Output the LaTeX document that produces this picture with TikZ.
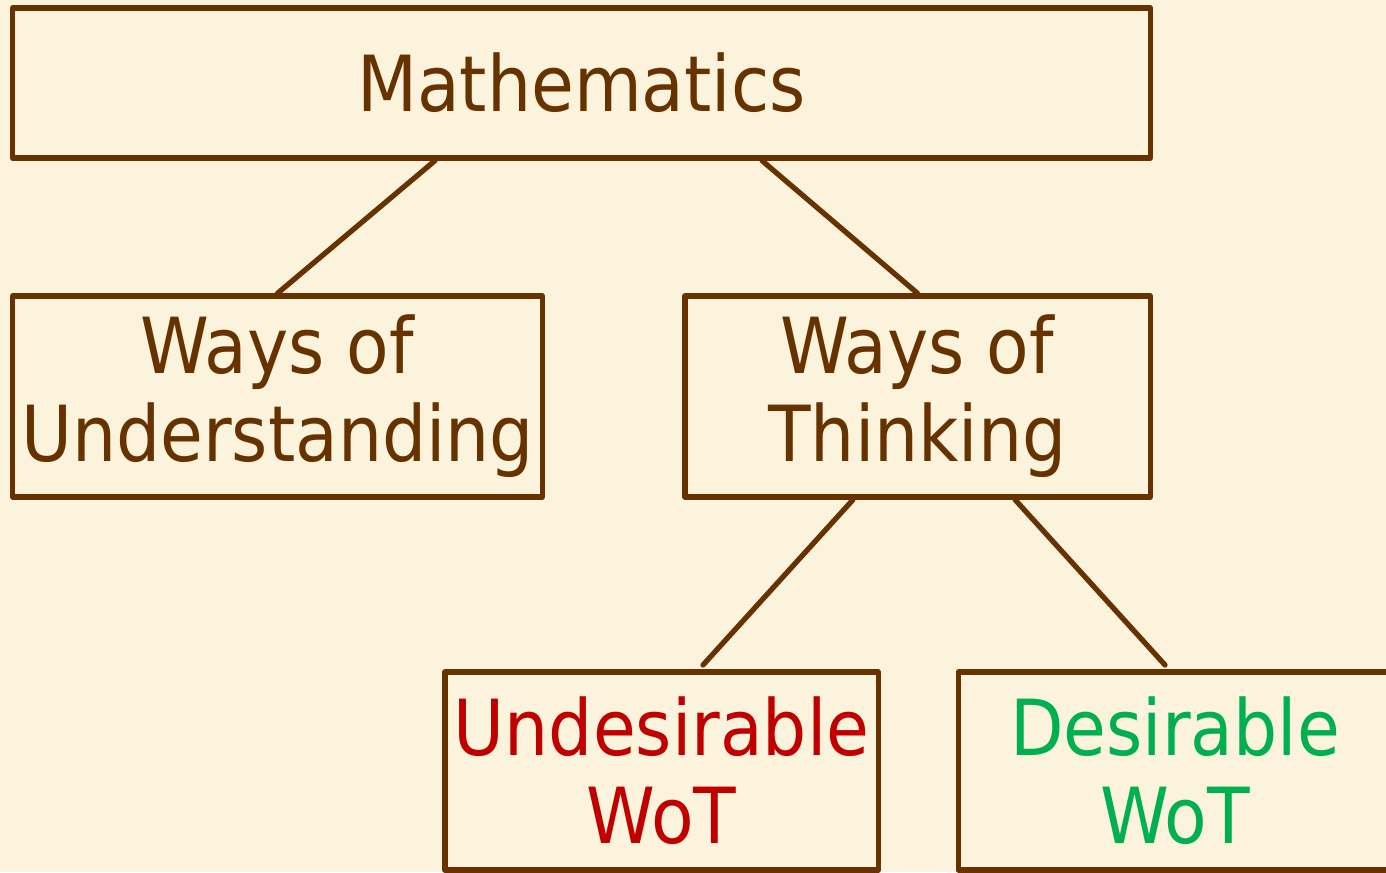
\documentclass[tikz,border=0pt]{standalone}
\usepackage{fontspec}
\setmainfont{DejaVu Sans Condensed}
\usetikzlibrary{positioning}
\definecolor{wotBrown}{RGB}{102,51,0}
\definecolor{wotRed}{RGB}{192,0,0}
\definecolor{wotGreen}{RGB}{0,176,80}
\definecolor{wotPaper}{RGB}{252,243,220}
\tikzset{
  wotbox/.style={draw=wotBrown, line width=1.5pt, rectangle, inner sep=0pt,
    align=center, text=wotBrown, font=\fontsize{22}{25}\selectfont},
  wotlink/.style={draw=wotBrown, line width=1.5pt}
}
\begin{document}
\begin{tikzpicture}
% picture measured in pixels of a 1386 x 872 slide
\def\px{0.01cm}
\begin{scope}[x=\px, y=-\px, line cap=round, line join=round]
  % Paper background and frame
  \useasboundingbox (0,0) rectangle (1386,872);
  \clip (0,0) rectangle (1386,872);
  \fill[wotPaper] (0,0) rectangle (1386,872);
  % Boxes
  \node[wotbox, minimum width=11.37cm, minimum height=1.50cm] (math) at (581.5,83) {Mathematics};
  \node[wotbox, minimum width=5.29cm, minimum height=2.01cm] (wou) at (277.5,396.5) {Ways of\\Understanding};
  \node[wotbox, minimum width=4.65cm, minimum height=2.01cm] (wot) at (917.5,396.5) {Ways of\\Thinking};
  \node[wotbox, minimum width=4.33cm, minimum height=1.98cm, text=wotRed] (undes) at (661.5,771) {Undesirable\\WoT};
  \node[wotbox, minimum width=4.33cm, minimum height=1.98cm, text=wotGreen] (des) at (1175,771) {Desirable\\WoT};
  % Free ends above the bottom boxes
  \coordinate (undesTop) at (703,665);
  \coordinate (desTop) at (1165,665);
  % Links
  \draw[wotlink] ([xshift=-1.465cm]math.south) -- (wou.north);
  \draw[wotlink] ([xshift=1.805cm]math.south) -- (wot.north);
  \draw[wotlink] ([xshift=-0.645cm]wot.south) -- (undesTop);
  \draw[wotlink] ([xshift=0.975cm]wot.south) -- (desTop);
\end{scope}
\end{tikzpicture}
\end{document}
